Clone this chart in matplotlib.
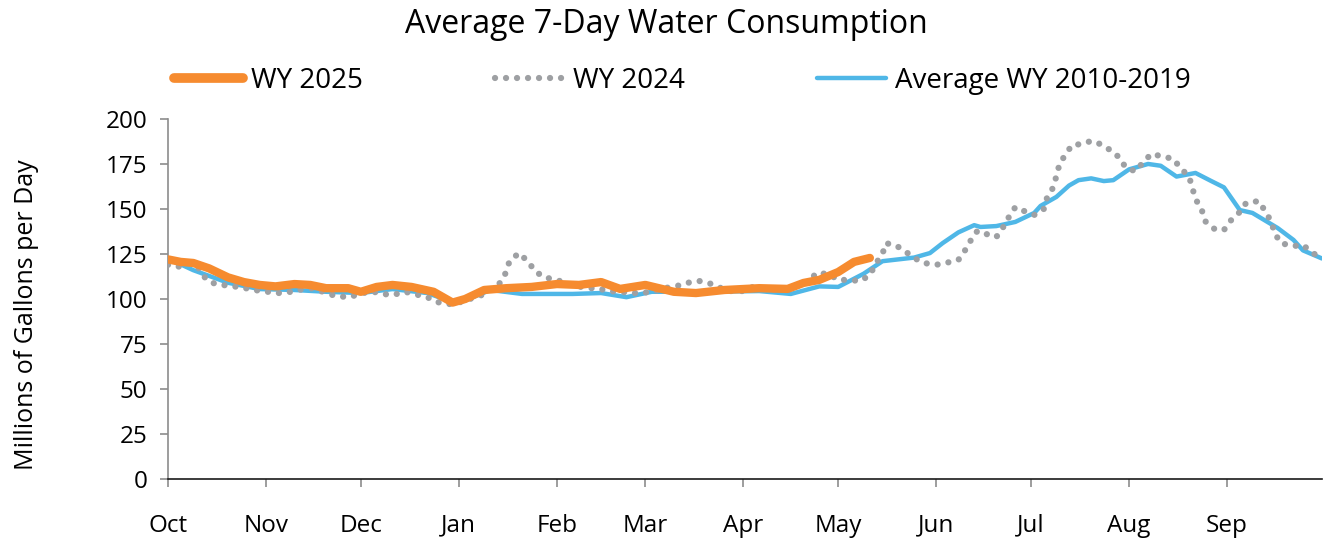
import matplotlib
matplotlib.use('Agg')
import matplotlib.pyplot as plt

plt.rcParams['font.family'] = ['Open Sans', 'DejaVu Sans']

# 水年从10月1日开始，x为第几天
month_labels = ['Oct', 'Nov', 'Dec', 'Jan', 'Feb', 'Mar', 'Apr', 'May', 'Jun', 'Jul', 'Aug', 'Sep']
month_days = [31, 30, 31, 31, 28, 31, 30, 31, 30, 31, 31, 30]

# WY 2025
wy2025_day = [0, 4, 8, 13, 19, 24, 29, 34, 40, 45, 50, 57, 61, 66, 71, 77, 84, 90, 94, 100,
              107, 115, 123, 130, 137, 143, 151, 160, 167, 176, 187, 196, 201, 206, 212, 217, 222]
wy2025_val = [122, 120.6, 120, 117, 112, 109.4, 107.8, 107, 108.3, 107.8, 106, 106, 104, 106.7, 107.8,
              106.7, 104, 98, 100, 105, 106, 106.7, 108.3, 107.8, 109.4, 105.6, 107.8, 104, 103.3, 105,
              106, 105.6, 108.9, 110.6, 115, 120.6, 122.8]

# WY 2024
wy2024_day = [0, 3, 7, 10, 12, 15, 23, 29, 35, 39, 43, 46, 50, 53, 57, 61, 64, 68, 71, 75, 82, 85,
              89, 92, 99, 105, 107, 108, 111, 114, 116, 119, 122, 126, 129, 133, 136, 139, 143, 147,
              150, 154, 157, 161, 164, 168, 171, 175, 178, 182, 185, 188, 192, 196, 199, 203, 205,
              209, 212, 215, 219, 222, 224, 226, 227, 230, 233, 236, 239, 243, 246, 250, 252, 254,
              256, 259, 262, 264, 266, 268, 270, 274, 277, 278, 280, 281, 282, 284, 286, 289, 292,
              295, 299, 301, 303, 306, 308, 311, 314, 318, 320, 323, 324, 325, 327, 328, 331, 334,
              336, 339, 341, 345, 347, 349, 350, 352, 356, 359, 362, 365]
wy2024_val = [119, 117.8, 120, 116.7, 111, 108.3, 106.5, 104.5, 103.3, 104, 105.6, 106, 103.3, 101.7,
              101, 102.8, 104.4, 102.8, 102.2, 104, 101, 98.3, 97.2, 98, 102, 108.9, 115, 121, 125.5,
              120.6, 115.6, 112, 111, 108.9, 107.2, 106, 106, 104.4, 104, 103.3, 103.3, 104.4, 106,
              107.2, 108.9, 110, 108.9, 106, 104.4, 104.4, 106.7, 106, 105, 106, 107.2, 110, 114.4,
              113.9, 110.6, 110.6, 110, 113.3, 120, 125, 131, 130, 126.7, 122.8, 120, 119, 120, 121.7,
              126.7, 132.8, 137.8, 136, 134.4, 139.4, 145.6, 151, 149.4, 146.7, 150, 156, 162, 168.3,
              175, 180.6, 185.6, 186, 187.8, 186, 181.7, 178.3, 172.8, 171, 175, 180.6, 179.4, 177.8,
              173.3, 167.8, 161.7, 155.6, 149.4, 143.3, 138.9, 138.3, 143.3, 148.3, 153.3, 154.4,
              148.9, 142.8, 136.7, 131, 129.4, 130, 125.5, 123]

# 2010-2019年平均
avg_day = [0, 8, 19, 29, 40, 50, 61, 71, 82, 90, 93, 102, 112, 128, 137, 145, 153, 170, 187, 197,
           206, 212, 220, 226, 236, 241, 245, 250, 255, 257, 262, 268, 274, 276, 281, 285, 288, 292,
           296, 299, 304, 310, 314, 319, 325, 330, 334, 339, 343, 351, 356, 359, 365]
avg_val = [122.5, 116, 109, 105.5, 105, 104, 103.3, 105.5, 103.3, 98.3, 98.5, 105, 102.8, 102.8,
           103.3, 101, 104, 104, 104.4, 102.8, 107, 106.7, 114, 121, 123, 125.5, 131, 137, 141, 140,
           140.5, 142.8, 147.8, 151.7, 156.7, 163, 166, 167, 165.5, 166, 172, 175, 174, 168, 170,
           165.5, 162, 149.4, 147.8, 139.4, 132.8, 127, 122.5]

orange = '#F68B2F'
grey = '#9EA0A3'
blue = '#4FB7E7'

fig = plt.figure(figsize=(13.27, 5.39), dpi=100)
ax = fig.add_axes([0.1266, 0.1113, 0.8696, 0.668])

ax.plot(avg_day, avg_val, color=blue, linewidth=3.2, solid_capstyle='round', zorder=2,
        label='Average WY 2010-2019')
ax.plot(wy2024_day, wy2024_val, color=grey, linewidth=4.5, linestyle=(0, (0.01, 1.75)),
        dash_capstyle='round', zorder=3, label='WY 2024')
ax.plot(wy2025_day, wy2025_val, color=orange, linewidth=6, solid_capstyle='round', zorder=4,
        label='WY 2025')

# 坐标轴
ax.set_xlim(0, 365)
ax.set_ylim(0, 200)
ax.set_yticks(range(0, 201, 25))
starts = [sum(month_days[:i]) for i in range(12)]
ax.set_xticks(starts)
ax.set_xticklabels(month_labels)
for s in ['top', 'right']:
    ax.spines[s].set_visible(False)
ax.spines['left'].set_color('#8C8C8C')
ax.spines['left'].set_linewidth(1.2)
ax.spines['bottom'].set_color('#1A1A1A')
ax.spines['bottom'].set_linewidth(1.2)
ax.tick_params(axis='y', direction='out', length=6, width=1.2, color='#8C8C8C', pad=9, labelsize=17.5)
ax.tick_params(axis='x', direction='out', length=6, width=1.2, color='#8C8C8C', pad=19, labelsize=17.5)
ax.set_ylabel('Millions of Gallons per Day', fontsize=18)
ax.yaxis.set_label_coords(-0.112, 0.455)

fig.suptitle('Average 7-Day Water Consumption', fontsize=23, x=0.502, y=0.985)

handles, labels = ax.get_legend_handles_labels()
order = [2, 1, 0]
leg = fig.legend([handles[i] for i in order], [labels[i] for i in order], ncol=3,
                 loc='center', bbox_to_anchor=(0.514, 0.85), frameon=False, fontsize=20,
                 handlelength=2.5, handletextpad=0.3, columnspacing=4.75)
leg.get_lines()[0].set_linewidth(7)

plt.savefig('out.png', dpi=100)
